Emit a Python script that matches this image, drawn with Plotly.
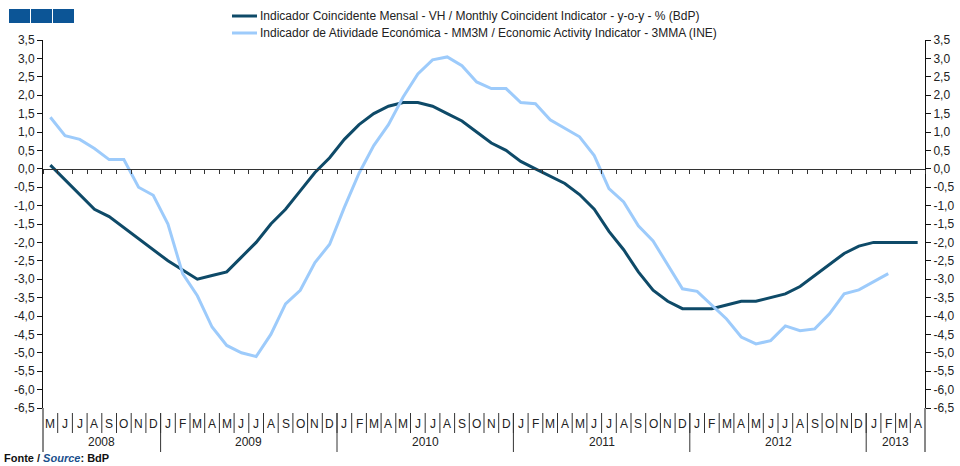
import plotly.graph_objects as go

# ---------------- data ----------------
months = ["M","J","J","A","S","O","N","D",
          "J","F","M","A","M","J","J","A","S","O","N","D",
          "J","F","M","A","M","J","J","A","S","O","N","D",
          "J","F","M","A","M","J","J","A","S","O","N","D",
          "J","F","M","A","M","J","J","A","S","O","N","D",
          "J","F","M","A"]
years = ["2008", "2009", "2010", "2011", "2012", "2013"]
year_counts = [8, 12, 12, 12, 12, 4]

coincident = [0.1, -0.3, -0.7, -1.1, -1.3, -1.6, -1.9, -2.2, -2.5, -2.75,
              -3.0, -2.9, -2.8, -2.4, -2.0, -1.5, -1.1, -0.6, -0.1, 0.3,
              0.8, 1.2, 1.5, 1.7, 1.8, 1.8, 1.7, 1.5, 1.3, 1.0,
              0.7, 0.5, 0.2, 0.0, -0.2, -0.4, -0.7, -1.1, -1.7, -2.2,
              -2.8, -3.3, -3.6, -3.8, -3.8, -3.8, -3.7, -3.6, -3.6, -3.5,
              -3.4, -3.2, -2.9, -2.6, -2.3, -2.1, -2.0, -2.0, -2.0, -2.0]
activity = [1.4, 0.9, 0.8, 0.55, 0.25, 0.25, -0.5, -0.72, -1.5, -2.85,
            -3.45, -4.3, -4.8, -5.0, -5.1, -4.5, -3.67, -3.3, -2.55, -2.05,
            -1.05, -0.12, 0.63, 1.2, 1.95, 2.58, 2.96, 3.04, 2.8, 2.36,
            2.18, 2.18, 1.8, 1.77, 1.33, 1.09, 0.87, 0.36, -0.54, -0.9,
            -1.55, -1.96, -2.6, -3.26, -3.33, -3.7, -4.08, -4.57, -4.76, -4.67,
            -4.27, -4.4, -4.35, -3.94, -3.4, -3.29, -3.07, -2.85]

series_names = ["Indicador Coincidente Mensal - VH / Monthly Coincident Indicator - y-o-y - % (BdP)",
                "Indicador de Atividade Económica - MM3M / Economic Activity Indicator - 3MMA (INE)"]
series_colors = ["#0e4a68", "#9dcbfb"]
ytick_vals = [x / 2 for x in range(-13, 8)]
ytick_text = [f"{v:.1f}".replace(".", ",") for v in ytick_vals]

# ---------------- geometry helpers ----------------
W, H = 960, 466
L, R, T, B = 43, 925, 40, 408
def px(x):
    return (x - L) / (R - L)
def py(y):
    return (B - y) / (B - T)

FONT = "Liberation Sans, Arial, sans-serif"
n = len(months)
xs = list(range(n))

fig = go.Figure()
fig.add_trace(go.Scatter(x=xs, y=coincident, mode="lines", name=series_names[0],
                         line=dict(color=series_colors[0], width=3)))
fig.add_trace(go.Scatter(x=xs[:len(activity)], y=activity, mode="lines", name=series_names[1],
                         line=dict(color=series_colors[1], width=3), yaxis="y2"))

shapes = []
annotations = []

# month labels and separators
for i, m in enumerate(months):
    annotations.append(dict(x=i, y=py(424), xref="x", yref="paper", text=m, showarrow=False,
                            font=dict(family=FONT, size=12, color="#222"),
                            xanchor="center", yanchor="middle"))
for i in range(n - 1):
    shapes.append(dict(type="line", xref="x", yref="paper", x0=i + 0.5, x1=i + 0.5,
                       y0=py(413), y1=py(433), line=dict(color="#333", width=1)))
# year labels and separators
start = 0
for yname, cnt in zip(years, year_counts):
    annotations.append(dict(x=start + (cnt - 1) / 2, y=py(442), xref="x", yref="paper", text=yname,
                            showarrow=False, font=dict(family=FONT, size=12, color="#222"),
                            xanchor="center", yanchor="middle"))
    start += cnt
    if start < n:
        shapes.append(dict(type="line", xref="x", yref="paper", x0=start - 0.5, x1=start - 0.5,
                           y0=py(413), y1=py(452), line=dict(color="#333", width=1)))
# axis line extensions
for xp in (0, 1):
    shapes.append(dict(type="line", xref="paper", yref="paper", x0=xp, x1=xp,
                       y0=0, y1=py(452), line=dict(color="#111", width=1)))

# logo squares
for k in range(3):
    x0 = 9 + k * 22
    shapes.append(dict(type="rect", xref="paper", yref="paper", x0=px(x0), x1=px(x0 + 21),
                       y0=py(23), y1=py(9), line=dict(width=0), fillcolor="#0c5596"))

# manual legend
for k, (name, col) in enumerate(zip(series_names, series_colors)):
    yy = 16 + 17 * k
    shapes.append(dict(type="line", xref="paper", yref="paper", x0=px(232), x1=px(257),
                       y0=py(yy), y1=py(yy), line=dict(color=col, width=3)))
    annotations.append(dict(x=px(258), y=py(yy), xref="paper", yref="paper", text=name,
                            showarrow=False, xanchor="left", yanchor="middle",
                            font=dict(family=FONT, size=12, color="#222")))

# source
annotations.append(dict(x=px(2), y=py(466), xref="paper", yref="paper",
                        text="<b>Fonte / <i><span style='color:#1a4f8c'>Source</span></i>: BdP</b>",
                        showarrow=False, xanchor="left", yanchor="bottom",
                        font=dict(family=FONT, size=11, color="#111")))

yax = dict(range=[-6.5, 3.5], tickvals=ytick_vals, ticktext=ytick_text, showline=True,
           linecolor="#111", linewidth=1, ticks="outside", ticklen=5, tickcolor="#111",
           showgrid=False, zeroline=False, tickfont=dict(family=FONT, size=12, color="#222"),
           fixedrange=True, automargin=False)

fig.update_layout(
    width=W, height=H,
    margin=dict(l=L, r=W - R, t=T, b=H - B, pad=0),
    paper_bgcolor="white", plot_bgcolor="white",
    showlegend=False,
    xaxis=dict(range=[-0.5, n - 0.5], anchor="free", position=py(B - 6.5 * (B - T) / 10),
               showline=True, linecolor="#333", linewidth=1, ticks="outside", ticklen=4,
               tickcolor="#333", tickvals=[i + 0.5 for i in range(-1, n)],
               showticklabels=False, showgrid=False, zeroline=False, automargin=False),
    yaxis=dict(**yax, side="left"),
    yaxis2=dict(**yax, side="right", overlaying="y"),
    shapes=shapes, annotations=annotations,
)

fig.write_html("out.html", config={"displayModeBar": False},
               post_script="document.body.style.margin='0';document.body.style.overflow='hidden';")
